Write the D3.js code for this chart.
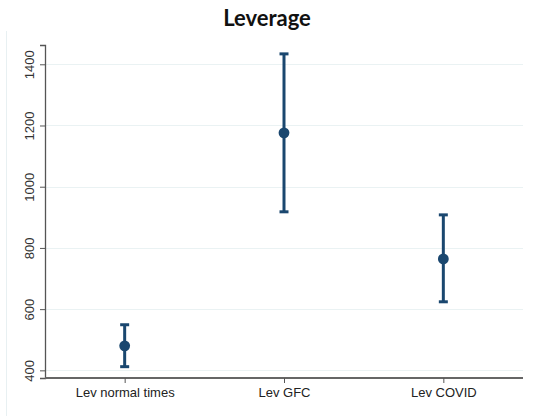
<!DOCTYPE html>
<html>
<head>
<meta charset="utf-8">
<script src="https://cdn.jsdelivr.net/npm/d3@7"></script>
<style>
  body { margin: 0; background: #fff; }
  svg { display: block; }
</style>
</head>
<body>
<svg id="chart" width="534" height="416"></svg>
<script>
// Data
const categories = ["Lev normal times", "Lev GFC", "Lev COVID"];
const means = [480, 1176, 764];
const lower = [412, 918, 624];
const upper = [549, 1434, 908];
const yTicks = [400, 600, 800, 1000, 1200, 1400];

const width = 534, height = 416;
const margin = { top: 45, right: 11, bottom: 38, left: 45 };
const navy = "#1a476f";

const svg = d3.select("#chart");

// faint graph-region border on the left
svg.append("line")
  .attr("x1", 6.5).attr("x2", 6.5)
  .attr("y1", 31).attr("y2", 416)
  .style("stroke", "#e8f0f2")
  .style("stroke-width", 1);

svg.append("text")
  .attr("x", width / 2)
  .attr("y", 26)
  .attr("text-anchor", "middle")
  .style("font", "bold 22px Lato")
  .style("fill", "#111")
  .text("Leverage");

const x = d3.scalePoint()
  .domain(categories)
  .range([margin.left, width - margin.right])
  .padding(0.5);

const y = d3.scaleLinear()
  .domain([375, 1463])
  .range([height - margin.bottom, margin.top]);

// gridlines
svg.append("g")
  .selectAll("line")
  .data(yTicks)
  .join("line")
  .attr("x1", margin.left)
  .attr("x2", width - margin.right)
  .attr("y1", d => Math.round(y(d)) + 0.5)
  .attr("y2", d => Math.round(y(d)) + 0.5)
  .style("stroke", "#eaf2f3")
  .style("stroke-width", 1.2);

// y axis
const yAxis = svg.append("g")
  .attr("transform", `translate(${margin.left},0)`)
  .call(d3.axisLeft(y).tickValues(yTicks).tickFormat(d3.format("d")).tickSize(5).tickPadding(4));
yAxis.select(".domain").style("stroke", "#555").style("stroke-width", 1.3);
yAxis.selectAll(".tick line").style("stroke", "#555");
yAxis.selectAll("text")
  .attr("transform", "rotate(-90)")
  .attr("x", 0)
  .attr("y", -11)
  .attr("dy", 0)
  .style("text-anchor", "middle")
  .style("font", "13px 'Liberation Sans'")
  .style("fill", "#333");

// x axis
const xAxis = svg.append("g")
  .attr("transform", `translate(0,${height - margin.bottom})`)
  .call(d3.axisBottom(x).tickSize(5).tickPadding(5).tickSizeOuter(0));
xAxis.select(".domain")
  .attr("d", `M${margin.left},0H${width - margin.right}`)
  .style("stroke", "#666").style("stroke-width", 2);
xAxis.selectAll(".tick line").style("stroke", "#555");
xAxis.selectAll("text")
  .style("font", "13px 'Liberation Sans'")
  .style("fill", "#222");

// error bars
const bars = svg.append("g");
bars.selectAll("line.bar")
  .data(categories)
  .join("line")
  .attr("class", "bar")
  .attr("x1", d => x(d)).attr("x2", d => x(d))
  .attr("y1", (d, i) => y(lower[i]))
  .attr("y2", (d, i) => y(upper[i]))
  .style("stroke", navy)
  .style("stroke-width", 3);

const caps = categories.flatMap((c, i) => [{ c, v: lower[i] }, { c, v: upper[i] }]);
bars.selectAll("line.cap")
  .data(caps)
  .join("line")
  .attr("class", "cap")
  .attr("x1", d => x(d.c) - 4.5)
  .attr("x2", d => x(d.c) + 4.5)
  .attr("y1", d => y(d.v))
  .attr("y2", d => y(d.v))
  .style("stroke", navy)
  .style("stroke-width", 3);

bars.selectAll("circle")
  .data(categories)
  .join("circle")
  .attr("cx", d => x(d))
  .attr("cy", (d, i) => y(means[i]))
  .attr("r", 5.4)
  .style("fill", navy);
</script>
</body>
</html>
